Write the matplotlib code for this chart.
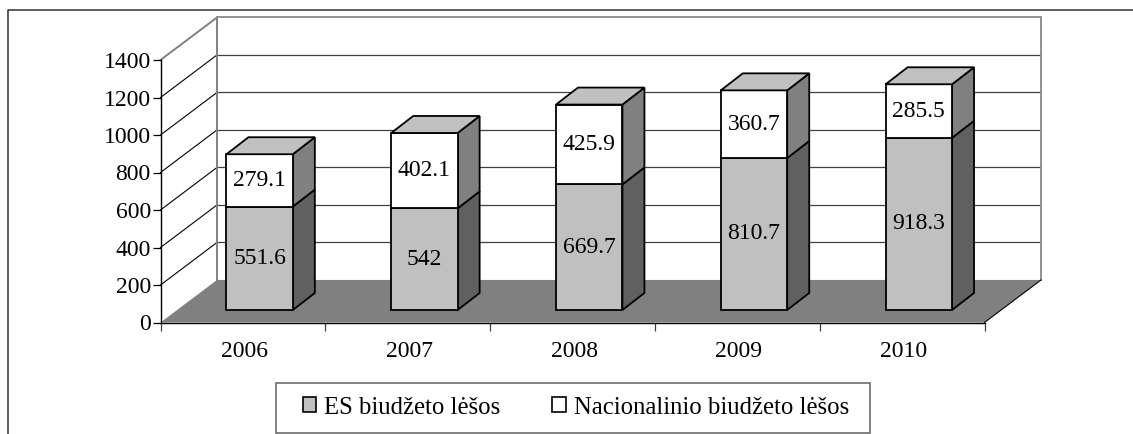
import matplotlib
matplotlib.use('Agg')
import matplotlib.pyplot as plt
from matplotlib.lines import Line2D
from matplotlib.patches import Patch, Polygon, Rectangle

plt.rcParams['font.family'] = ['Liberation Serif', 'DejaVu Serif']

years = ['2006', '2007', '2008', '2009', '2010']
es_funds = [551.6, 542, 669.7, 810.7, 918.3]
national_funds = [279.1, 402.1, 425.9, 360.7, 285.5]
value_ticks = [0, 200, 400, 600, 800, 1000, 1200, 1400]

W, H = 1133, 434
fig = plt.figure(figsize=(W / 100, H / 100), dpi=100)
# front plane of the fake 3d box, in pixels of the reference
ax = fig.add_axes([160.5 / W, 1 - 322.5 / H, 824 / W, 262.5 / H])
ax.set_xlim(0, 5)
ax.set_ylim(0, 1400)
ax.patch.set_visible(False)

# offsets of the back wall and of the bars in data units
wall_dx, wall_dy = 0.343, 227
bar_left, bar_w = 0.4, 0.403
bar_base = 66.7
bar_dx, bar_dy = 0.1335, 90.7


def poly(points, fc, ec='none', lw=0, z=1):
    ax.add_patch(Polygon(points, closed=True, fc=fc, ec=ec, lw=lw, zorder=z,
                         clip_on=False, joinstyle='miter'))


def line(xs, ys, color, lw, z=1):
    ax.add_line(Line2D(xs, ys, color=color, lw=lw, zorder=z, clip_on=False))


# floor
poly([(0, 0), (5, 0), (5 + wall_dx, wall_dy), (wall_dx, wall_dy)], '#808080', z=2)

# walls and grid
for v in value_ticks[1:-1]:
    line([wall_dx, 5 + wall_dx], [v + wall_dy, v + wall_dy], '#404040', 0.9)
    line([0, wall_dx], [v, v + wall_dy], 'black', 0.8)
top = value_ticks[-1]
line([0, wall_dx, wall_dx], [top, top + wall_dy, wall_dy], '#808080', 1.4)
line([wall_dx, 5 + wall_dx, 5 + wall_dx], [top + wall_dy, top + wall_dy, wall_dy], '#909090', 1.4)
line([5, 5 + wall_dx], [0, wall_dy], 'black', 0.8, z=2)


def segment(x, y0, y1, front, side, z):
    ec = 'black'
    poly([(x + bar_w, y0), (x + bar_w + bar_dx, y0 + bar_dy),
          (x + bar_w + bar_dx, y1 + bar_dy), (x + bar_w, y1)], side, ec, 1.3, z)
    poly([(x, y0), (x + bar_w, y0), (x + bar_w, y1), (x, y1)], front, ec, 1.3, z)


for i in range(len(years)):
    x = i + bar_left
    y0 = bar_base
    y1 = y0 + es_funds[i]
    y2 = y1 + national_funds[i]
    z = 3 + i
    segment(x, y0, y1, '#C0C0C0', '#606060', z)
    segment(x, y1, y2, 'white', '#808080', z)
    # lid
    poly([(x, y2), (x + bar_w, y2), (x + bar_w + bar_dx, y2 + bar_dy),
          (x + bar_dx, y2 + bar_dy)], '#C0C0C0', 'black', 1.3, z)
    ax.text(x + bar_w / 2, (y0 + y1) / 2, f'{es_funds[i]:g}', ha='center', va='center',
            fontsize=17, zorder=20)
    ax.text(x + bar_w / 2, (y1 + y2) / 2, f'{national_funds[i]:g}', ha='center', va='center',
            fontsize=17, zorder=20)

for s in ['top', 'right']:
    ax.spines[s].set_visible(False)
for s in ['left', 'bottom']:
    ax.spines[s].set_linewidth(1)
    ax.spines[s].set_zorder(3)

ax.set_yticks(value_ticks)
ax.tick_params(axis='y', length=6, width=0.9, pad=1, labelsize=17)
ax.set_xticks(range(6))
ax.set_xticklabels([])
ax.tick_params(axis='x', which='major', length=6, width=0.9, color='#404040')
ax.set_xticks([i + 0.51 for i in range(5)], minor=True)
ax.set_xticklabels(years, minor=True, fontsize=17)
ax.tick_params(axis='x', which='minor', length=0, pad=13)

# legend box drawn on its own, its padding differs in x and y
fig.add_artist(Rectangle((275.5 / W, 1 - 433 / H), 594 / W, 50.5 / H, transform=fig.transFigure,
                         fc='white', ec='#606060', lw=1.1))
handles = [Patch(fc='#C0C0C0', ec='black', lw=1.2), Patch(fc='white', ec='black', lw=1.2)]
leg = fig.legend(handles, ['ES biudžeto lėšos', 'Nacionalinio biudžeto lėšos'], ncol=2,
                 loc='center', bbox_to_anchor=(576 / W, 1 - 407.5 / H), fontsize=17.8,
                 frameon=False, handlelength=0.55, handleheight=0.55, handletextpad=0.33,
                 columnspacing=2.1, borderpad=0, borderaxespad=0)

# outer frame, open at the right and at the bottom
fig.add_artist(Line2D([7.5 / W, 7.5 / W, 1], [0, 1 - 10 / H, 1 - 10 / H], color='#303030', lw=1.1))

fig.savefig('out.png', dpi=100)
